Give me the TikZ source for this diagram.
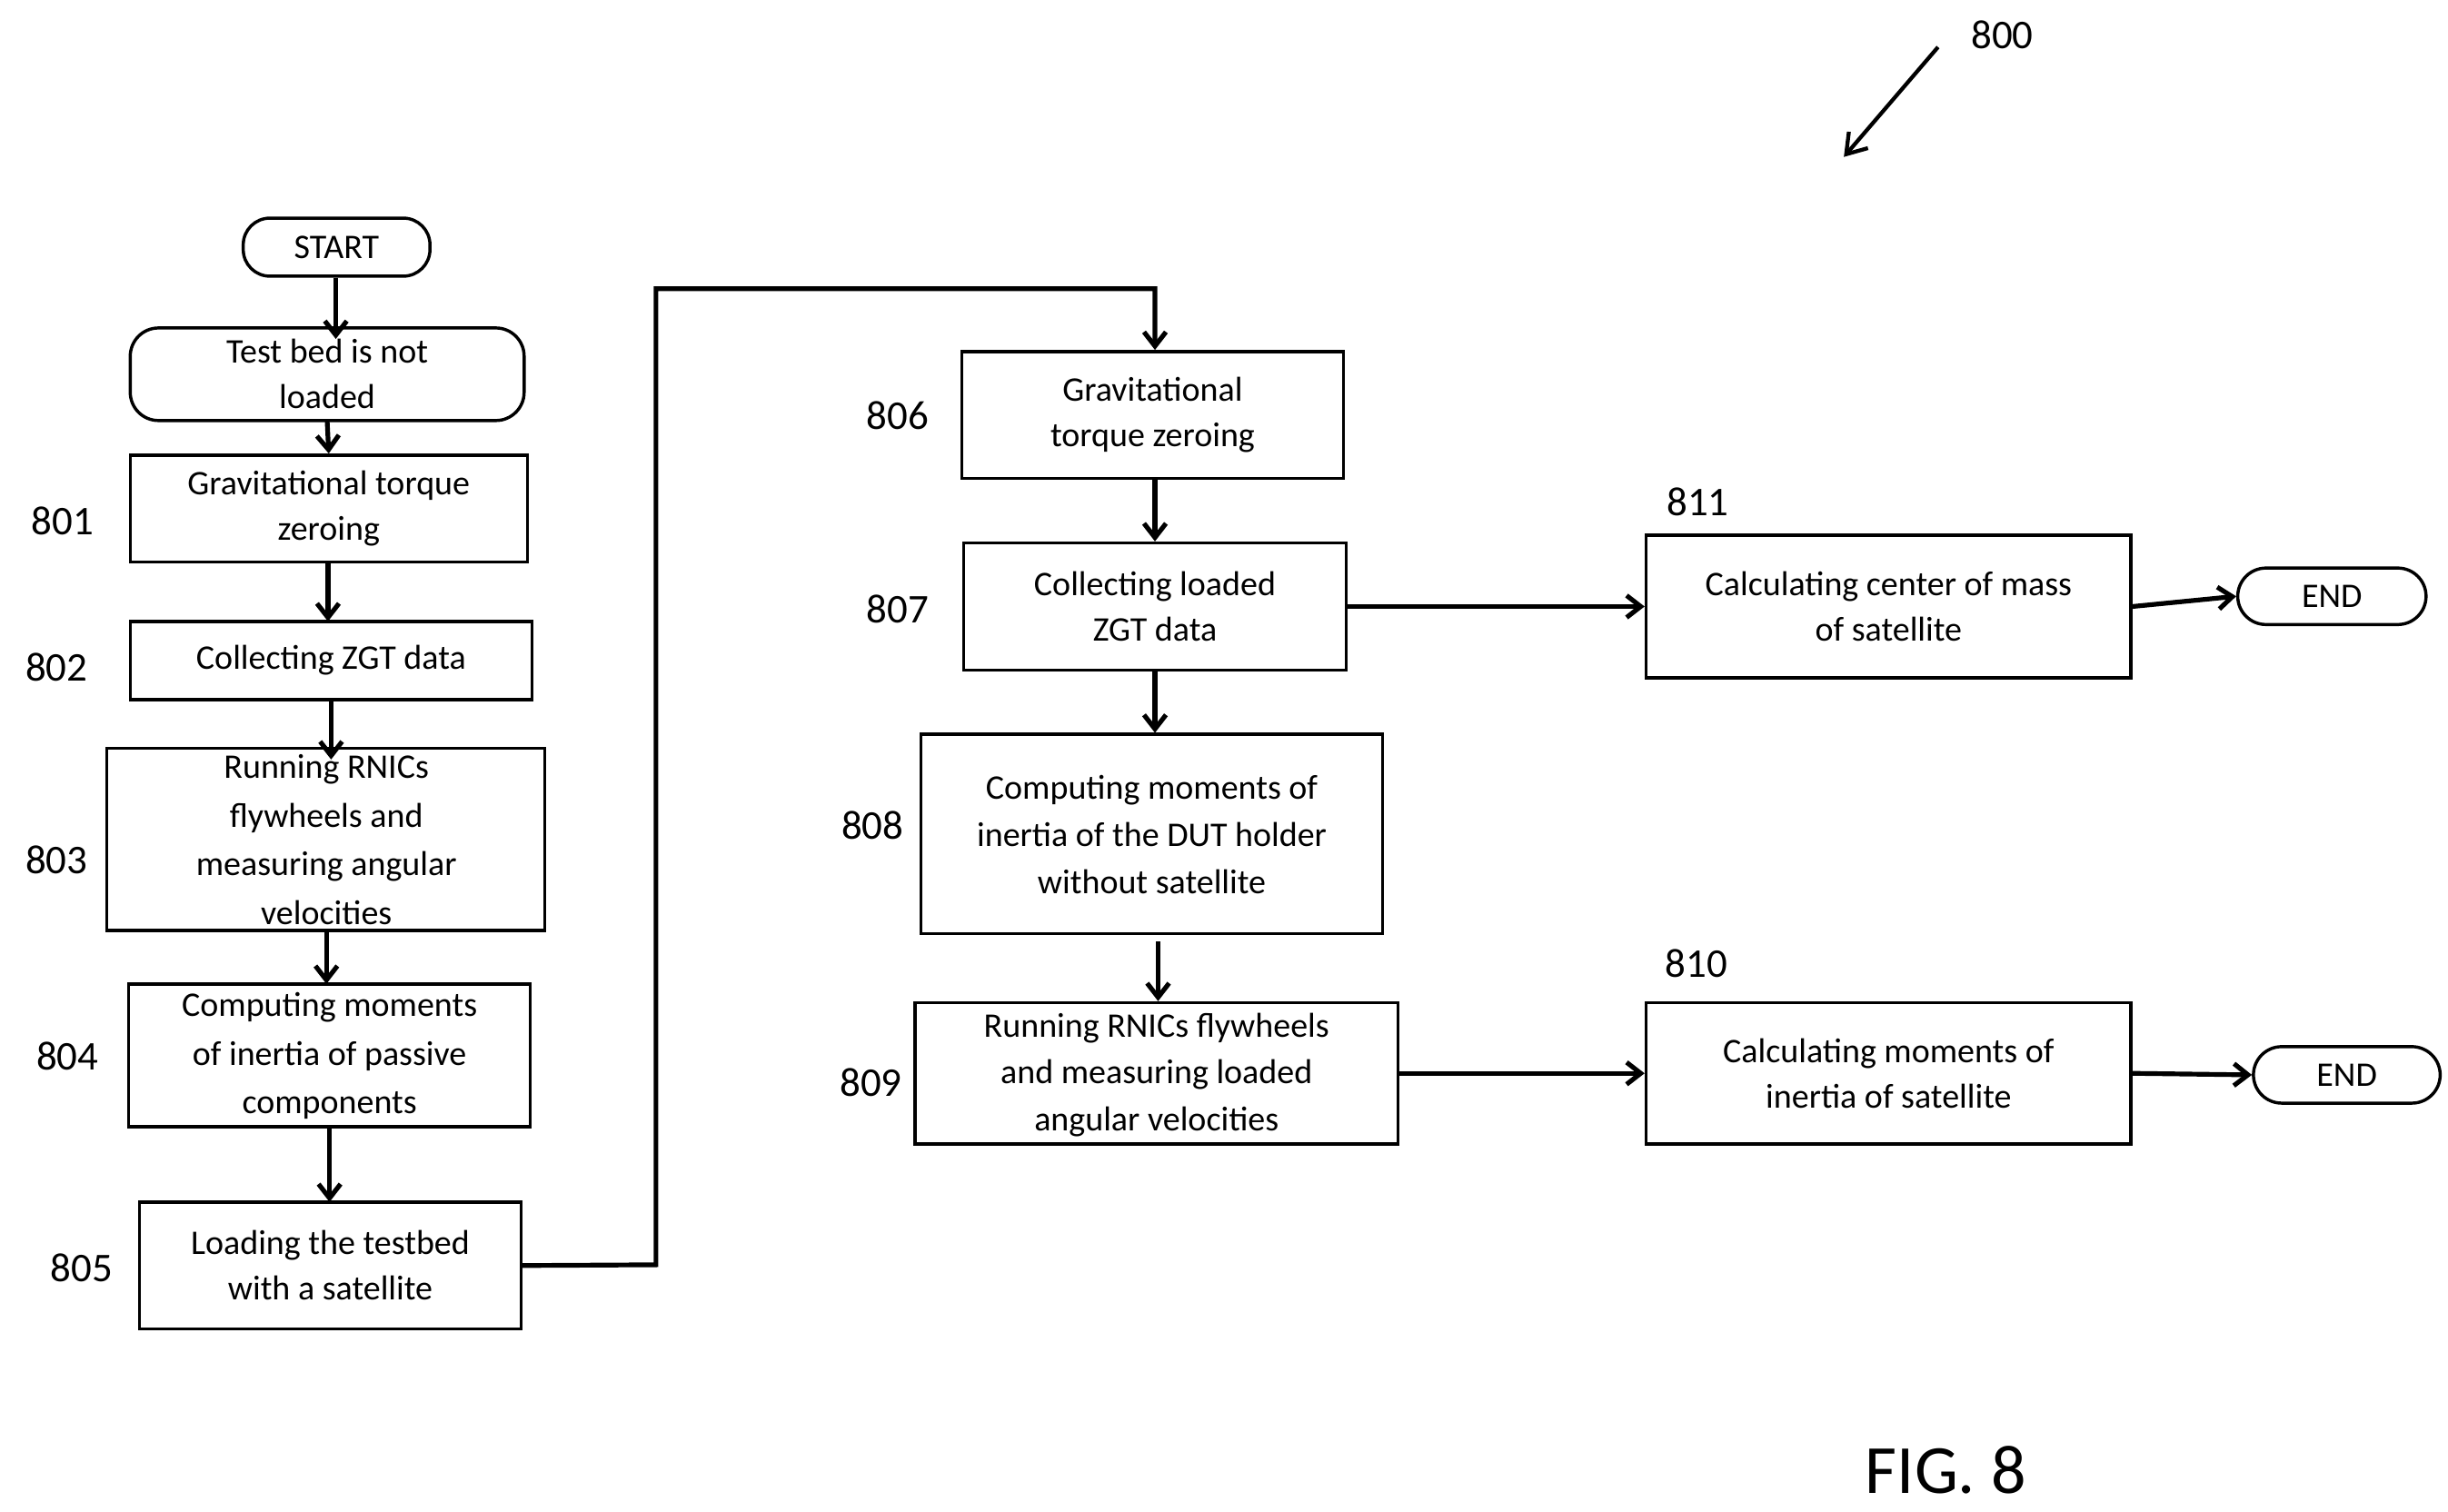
\documentclass[tikz,border=0pt]{standalone}
\usepackage{fontspec}
\setmainfont{Carlito}
\usetikzlibrary{arrows.meta}
\begin{document}
\begin{tikzpicture}[x=1pt,y=-1pt,
 box/.style={draw,line width=2pt,align=center,font=\fontsize{22}{28}\selectfont,inner sep=0pt},
 lab/.style={font=\fontsize{26}{30}\selectfont},
 arr/.style={line width=3pt,-{Straight Barb[length=9pt,width=14pt]}}]
\useasboundingbox (0,0) rectangle (1560,963);
\def\bx#1#2#3#4#5#6{\node[box,#6,minimum width=#3-#2,minimum height=#5-#4] (#1) at ({(#2+#3)/2},{(#4+#5)/2}) {};}
\bx{st}{155}{274}{139}{176}{rounded corners=17pt}
\bx{tb}{83}{334}{209}{268}{rounded corners=18pt}
\bx{a1}{83}{336}{290}{358}{}
\bx{a2}{83}{339}{396}{446}{}
\bx{a3}{68}{347}{477}{593}{}
\bx{a4}{82}{338}{627}{718}{}
\bx{a5}{89}{332}{766}{847}{}
\bx{a6}{613}{856}{224}{305}{}
\bx{a7}{614}{858}{346}{427}{}
\bx{a8}{587}{881}{468}{595}{}
\bx{a9}{583}{891}{639}{729}{}
\bx{b1}{1049}{1358}{341}{432}{}
\bx{b0}{1049}{1358}{639}{729}{}
\bx{e1}{1426}{1546}{362}{398}{rounded corners=18pt}
\bx{e2}{1436}{1555}{667}{703}{rounded corners=18pt}
\def\tx#1#2{\node[align=center,font=\fontsize{22}{29}\selectfont] at (#1) {#2};}
\tx{st}{START}
\tx{tb}{Test bed is not\\loaded}
\tx{a1}{Gravitational torque\\zeroing}
\tx{a2}{Collecting ZGT data}
\node[align=center,font=\fontsize{22}{31}\selectfont] at (208,535) {Running RNICs\\flywheels and\\measuring angular\\velocities};
\node[align=center,font=\fontsize{22}{31}\selectfont] at (210,673) {Computing moments\\of inertia of passive\\components};
\tx{a5}{Loading the testbed\\with a satellite}
\tx{a6}{Gravitational\\torque zeroing}
\tx{a7}{Collecting loaded\\ZGT data}
\node[align=center,font=\fontsize{22}{30}\selectfont] at (734,532) {Computing moments of\\inertia of the DUT holder\\without satellite};
\node[align=center,font=\fontsize{22}{30}\selectfont] at (737,685) {Running RNICs flywheels\\and measuring loaded\\angular velocities};
\tx{b1}{Calculating center of mass\\of satellite}
\tx{b0}{Calculating moments of\\inertia of satellite}
\tx{e1}{END}
\tx{e2}{END}
\node[lab] at (40,332) {801};
\node[lab] at (36,425) {802};
\node[lab] at (36,548) {803};
\node[lab] at (43,673) {804};
\node[lab] at (52,808) {805};
\node[lab] at (572,265) {806};
\node[lab] at (572,388) {807};
\node[lab] at (556,526) {808};
\node[lab] at (555,690) {809};
\node[lab] at (1082,320) {811};
\node[lab] at (1081,614) {810};
\node[lab] (n800) at (1276,22) {800};
\coordinate (p1) at (1235,30); \coordinate (p2) at (1175,100);
\draw[line width=2.5pt,-{Straight Barb[length=12pt,width=16pt]}] (p1) -- (p2);
\node[font=\fontsize{44}{50}\selectfont] at (1240,937) {FIG. 8};
\draw[arr] (st.south -| 214,0) -- (214,216);
\draw[arr] (tb) ++(0,30) -- (a1.north);
\draw[arr] (209,358) -- (209,396);
\draw[arr] (211,446) -- (211,484);
\draw[arr] (208,593) -- (208,627);
\draw[arr] (210,718) -- (210,766);
\draw[arr] (a5.east) -- (418,806) -- (418,184) -- (736,184) -- (a6.north -| 736,0);
\draw[arr] (a6.south -| 736,0) -- (a7.north -| 736,0);
\draw[arr] (a7.south -| 736,0) -- (a8.north -| 736,0);
\draw[arr] (738,600) -- (a9.north -| 738,0);
\draw[arr] (a7.east) -- (b1.west);
\draw[arr] (a9.east) -- (b0.west);
\draw[arr] (b1.east) -- (e1.west);
\draw[arr] (b0.east) -- (e2.west);
\end{tikzpicture}
\end{document}
